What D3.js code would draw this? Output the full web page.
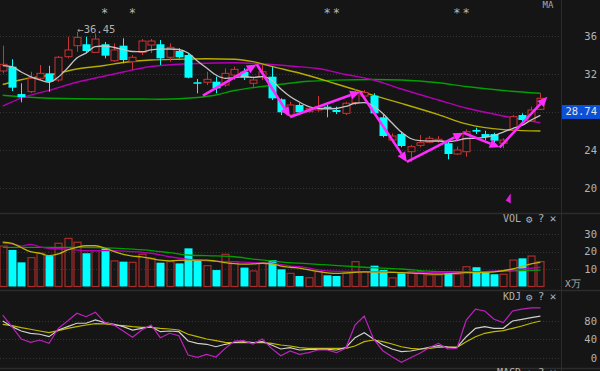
<!DOCTYPE html>
<html><head><meta charset="utf-8">
<script src="https://cdn.jsdelivr.net/npm/d3@7/dist/d3.min.js"></script>
<style>html,body{margin:0;padding:0;background:#151515;overflow:hidden}</style>
</head><body><svg id="c" width="600" height="371"></svg>
<script>
// ---------------- DATA ----------------
const opens  = [32.32,32.77,29.89,30.14,31.55,32.07,31.37,33.82,34.98,35.13,34.28,35.13,33.40,34.98,33.29,34.28,35.05,35.13,33.76,34.42,34.00,31.13,31.13,31.19,30.84,31.89,32.24,31.02,31.72,31.72,29.34,27.68,28.74,28.03,28.21,28.56,28.21,27.86,28.98,29.68,29.72,27.44,25.05,25.68,23.82,24.49,24.81,24.95,24.71,23.58,23.82,26.11,25.68,25.68,24.71,26.11,27.68,27.05,28.28];
const highs  = [34.98,33.55,31.02,32.24,32.95,32.87,33.89,35.93,36.45,35.93,36.28,35.37,35.23,35.76,34.00,35.68,35.68,35.58,35.23,34.71,34.18,31.47,32.24,31.72,32.60,32.77,32.60,31.72,32.95,32.77,29.44,29.08,28.92,28.56,29.68,28.74,28.56,29.08,30.39,30.32,29.97,27.68,25.76,25.93,24.53,25.58,25.47,25.47,24.87,24.35,26.18,26.35,26.03,25.82,25.23,27.68,27.86,28.56,29.97];
const lows   = [32.07,30.21,29.02,30.00,31.37,30.14,31.19,33.65,34.35,34.18,34.21,33.65,33.29,33.13,32.42,34.00,34.21,32.95,33.29,33.65,31.55,29.97,30.84,29.97,30.66,31.37,31.37,30.49,31.37,29.26,27.68,27.47,27.86,27.93,28.03,27.44,27.79,27.68,28.74,29.55,27.68,25.34,24.87,24.28,22.77,24.28,24.71,24.77,23.02,23.47,23.29,25.68,25.05,24.77,24.18,25.93,26.63,26.98,28.21];
const closes = [33.02,30.56,29.55,31.55,32.07,31.19,33.76,34.53,35.86,34.42,35.68,33.93,34.53,33.47,33.76,35.47,35.47,33.65,34.81,33.76,31.61,30.98,31.44,30.49,32.07,32.49,31.61,31.37,32.24,29.44,27.97,28.74,27.97,28.39,28.56,28.35,28.00,28.92,29.97,30.07,27.86,25.47,25.47,24.42,24.35,24.77,25.23,25.13,23.58,24.00,25.93,25.93,25.34,24.98,25.05,27.51,27.16,28.21,29.44];
const volumes = [23.1,20.9,13.8,16.5,19.0,17.4,24.7,27.5,25.3,19.0,20.5,21.8,14.6,14.2,13.8,18.4,16.1,13.6,14.2,13.2,21.8,15.1,11.9,9.4,18.4,14.2,10.8,8.9,13.2,15.1,9.8,7.5,6.0,5.0,8.5,6.4,6.0,7.5,14.2,8.3,11.9,9.4,4.9,7.5,8.5,8.5,6.6,6.6,7.5,7.1,11.3,11.0,8.1,7.0,7.0,15.1,16.1,17.4,14.2];

// moving averages on price panel
const ma5 = [32.89,32.77,32.21,31.72,31.37,31.13,31.68,32.63,33.68,34.21,34.89,34.95,34.79,34.58,34.37,34.35,34.53,34.61,34.63,34.58,34.21,33.37,32.63,31.89,31.55,31.61,31.72,31.65,31.72,31.37,30.42,29.63,29.05,28.58,28.37,28.32,28.37,28.58,28.92,28.98,28.63,27.84,26.84,25.89,25.21,24.98,24.95,24.95,24.89,25.00,25.21,25.23,25.32,25.53,25.89,26.26,26.58,27.16,27.65];
const maYellow  = [[0,30.89],[2,31.4],[5,31.87],[8,32.53],[11,32.89],[13,33.21],[16,33.47],[19,33.55],[22,33.6],[25,33.56],[27,33.3],[29,32.8],[32,32.1],[36,30.95],[40,29.75],[43,28.9],[47,27.72],[50,26.75],[54,26.15],[58,26.0]];
const maMagenta = [[0,28.63],[2,29.47],[5,30.28],[8,31.13],[11,31.79],[13,32.21],[16,32.79],[19,33.02],[22,33.13],[25,33.18],[28,33.05],[31,32.84],[34,32.58],[37,31.95],[40,31.37],[43,30.42],[47,29.26],[50,28.42],[54,27.58],[58,26.87]];
const maGreen   = [[0,29.76],[2,29.61],[5,29.45],[11,29.37],[15,29.37],[17,29.34],[21,29.53],[23,29.79],[25,30.26],[28,30.68],[30,30.92],[33,31.24],[36,31.35],[40,31.42],[43,31.37],[47,31.08],[50,30.68],[54,30.26],[58,29.97]];

// volume moving averages
const volYellow  = [[0,25.4],[1,24.6],[2,22.3],[3,19.9],[4,19.0],[5,17.7],[6,18.6],[7,20.9],[8,22.4],[9,23.3],[10,23.3],[11,22.0],[12,20.0],[13,18.3],[14,17.4],[15,16.9],[16,16.0],[17,15.1],[18,14.7],[20,15.1],[22,15.1],[23,14.5],[24,13.7],[25,13.1],[26,12.8],[27,12.9],[28,13.3],[29,13.0],[30,11.7],[31,11.0],[32,10.5],[34,8.6],[36,7.5],[39,8.4],[43,7.9],[47,7.1],[50,7.9],[53,8.4],[55,10.0],[57,12.9],[58,13.8]];
const volMagenta = [[0,24.7],[1,24.3],[2,23.1],[3,24.1],[4,22.7],[5,21.8],[7,21.4],[9,20.5],[12,20.5],[14,19.9],[16,19.0],[18,17.0],[20,15.5],[22,14.7],[25,14.2],[27,13.6],[29,13.3],[31,11.7],[32,11.3],[35,8.9],[39,8.5],[43,8.1],[47,7.9],[52,8.5],[55,9.4],[58,11.0]];
const volGreen   = [[0,22.4],[5,22.4],[8,22.4],[12,21.9],[14,21.3],[16,20.5],[18,19.3],[20,18.0],[22,17.6],[25,17.0],[27,15.7],[29,14.7],[31,13.6],[32,13.3],[35,12.3],[39,11.0],[43,10.0],[47,8.5],[52,8.5],[55,8.9],[58,9.4]];

// KDJ
const kLine = [79.4,67.2,57.9,53.0,50.9,45.7,60.0,67.2,74.5,74.5,81.5,75.8,72.3,67.2,60.0,63.7,67.2,56.4,57.9,56.4,36.5,31.5,29.4,24.2,29.4,33.7,35.0,32.8,35.0,27.9,19.3,22.1,17.2,18.7,18.7,18.7,17.2,22.1,43.6,54.3,40.8,27.9,19.3,13.6,15.0,18.7,23.0,26.5,23.6,23.0,45.7,63.7,67.2,63.7,63.7,79.4,83.0,86.5,90.0];
const dLine = [72.3,69.3,65.0,61.6,57.9,54.3,58.6,63.7,67.2,70.8,73.6,73.0,70.8,69.3,67.2,65.8,65.8,63.7,62.2,60.0,50.9,45.7,40.8,37.2,33.7,32.8,33.7,32.8,33.7,31.5,27.9,25.8,22.1,20.8,20.8,20.8,20.8,20.8,25.8,35.0,38.6,35.0,30.0,24.2,20.8,19.3,20.8,23.0,23.6,23.0,35.0,45.7,53.0,56.4,58.6,63.7,68.7,74.5,79.4];
const jLine = [92,67,40.8,33.6,38.6,31.5,63.7,79.4,95.9,88.6,98,76.6,70.8,57.9,44.4,60,70.8,43.6,53,47.9,6.4,1.4,7.9,2.1,20.7,36.5,37.2,30,40.8,20.7,5,15,7.9,11.4,17.2,17.2,11.4,20.8,70.8,90,40.8,15.7,2.8,-9.3,0.6,10,22.1,31.5,19.3,20.8,81.5,105,100.9,83,75.8,100.9,105,107.3,107.3];

// annotations
const zigzag = [[21.6,29.72],[27.4,33.02],[31.0,27.47],[38.55,30.14],[43.6,22.74],[49.7,25.82],[53.6,24.28],[58.75,29.61]];
const starIdx = [11,14,35,36,49,50];
const maxIdx = 8, maxLabel = "←36.45";
const lastPrice = 28.74;
const gridPrice = [36,32,28,24,20];
const priceTicks = [36,32,24,20];
const volTicks = [30,20,10];
const kdjTicks = [80,40,0];
const flagPoint = [54.8, 18.8];

// ---------------- DRAW ----------------
const W = 600, H = 371, plotR = 561;
const BG = "#151515";
const RED = "#cc3333", VRED = "#a82c2c", CYAN = "#00ffff";
const FONT = "'DejaVu Sans Mono', 'Liberation Mono', monospace";
const svg = d3.select("#c");
svg.append("rect").attr("width", W).attr("height", H).attr("fill", BG);

const x = d3.scaleLinear().domain([0, 58]).range([2.7, 540.4]);
const yP = d3.scaleLinear().domain([20, 36]).range([188, 36]);
const yV = d3.scaleLinear().domain([0, 30]).range([286.5, 234]);
const yK = d3.scaleLinear().domain([0, 80]).range([358, 320.7]);

const defs = svg.append("defs");
function clip(id, y0, y1) {
  defs.append("clipPath").attr("id", id).append("rect")
    .attr("x", 0).attr("y", y0).attr("width", plotR).attr("height", y1 - y0);
}
clip("cMain", 0, 212); clip("cVol", 214, 289); clip("cKdj", 291, 367);

// grids
function grid(vals, sc) {
  svg.append("g").selectAll("line").data(vals).join("line")
    .attr("x1", 0).attr("x2", plotR)
    .attr("y1", d => Math.round(sc(d)) + 0.5).attr("y2", d => Math.round(sc(d)) + 0.5)
    .attr("stroke", "#353535").attr("stroke-dasharray", "1,2");
}
grid(gridPrice, yP); grid(volTicks, yV); grid(kdjTicks, yK);

// separators
[213, 290, 368].forEach(yy => svg.append("line").attr("x1", 0).attr("x2", W)
  .attr("y1", yy + 0.5).attr("y2", yy + 0.5).attr("stroke", "#2c2c2c").attr("stroke-width", 1.5));
svg.append("line").attr("x1", plotR + 0.5).attr("x2", plotR + 0.5).attr("y1", 0).attr("y2", H)
  .attr("stroke", "#2c2c2c");

// ---- main panel
const gM = svg.append("g").attr("clip-path", "url(#cMain)");
const idx = d3.range(opens.length);
const lineP = d3.line().x(d => x(d[0])).y(d => yP(d[1])).curve(d3.curveMonotoneX);
[[maGreen, "#00a000"], [maMagenta, "#b400b4"], [maYellow, "#b4ac00"]].forEach(([data, col]) => {
  gM.append("path").datum(data).attr("d", lineP).attr("fill", "none").attr("stroke", col).attr("stroke-width", 1.4);
});

// candles
const cg = gM.append("g");
idx.forEach(i => {
  const up = closes[i] >= opens[i];
  const col = up ? RED : CYAN;
  const cx = Math.round(x(i)) + 0.5;
  cg.append("line").attr("x1", cx).attr("x2", cx)
    .attr("y1", yP(highs[i])).attr("y2", yP(lows[i])).attr("stroke", col);
  const top = yP(Math.max(opens[i], closes[i])), bot = yP(Math.min(opens[i], closes[i]));
  if (up) {
    cg.append("rect").attr("x", cx - 3.5).attr("y", top).attr("width", 7)
      .attr("height", Math.max(1, bot - top)).attr("fill", BG).attr("stroke", col);
  } else {
    cg.append("rect").attr("x", cx - 4).attr("y", top).attr("width", 8)
      .attr("height", Math.max(1.5, bot - top)).attr("fill", col);
  }
});

gM.append("path").datum(ma5.map((v, i) => [i, v])).attr("d", lineP)
  .attr("fill", "none").attr("stroke", "#c4c4c4").attr("stroke-width", 1.3);

// zigzag arrows
const ZC = "#ff2cff";
for (let k = 0; k < zigzag.length - 1; k++) {
  const x0 = x(zigzag[k][0]), y0 = yP(zigzag[k][1]);
  const x1 = x(zigzag[k + 1][0]), y1 = yP(zigzag[k + 1][1]);
  const a = Math.atan2(y1 - y0, x1 - x0), L = 10, hw = 4.5;
  const bx = x1 - L * Math.cos(a), by = y1 - L * Math.sin(a);
  gM.append("line").attr("x1", x0).attr("y1", y0).attr("x2", bx).attr("y2", by)
    .attr("stroke", ZC).attr("stroke-width", 2.6);
  const p = [[x1, y1], [bx + hw * Math.sin(a), by - hw * Math.cos(a)], [bx - hw * Math.sin(a), by + hw * Math.cos(a)]];
  gM.append("path").attr("d", "M" + p.map(q => q.join(",")).join("L") + "Z").attr("fill", ZC);
}
// small flag
{
  const fx = x(flagPoint[0]), fy = yP(flagPoint[1]);
  gM.append("path").attr("d", `M${fx},${fy - 6}L${fx},${fy + 4}L${fx - 5},${fy + 1}Z`).attr("fill", "#e020e0");
}

// max label and stars
svg.append("text").attr("x", x(maxIdx) + 0.5).attr("y", yP(highs[maxIdx]) + 1.5)
  .attr("font-family", FONT).attr("font-size", 10.5).attr("fill", "#b0b0b0").text(maxLabel);
svg.append("g").selectAll("text").data(starIdx).join("text")
  .attr("x", d => x(d)).attr("y", 17).attr("text-anchor", "middle")
  .attr("font-family", FONT).attr("font-size", 12).attr("fill", "#b8b8b8").text("*");
svg.append("text").attr("x", 548).attr("y", 8).attr("text-anchor", "middle")
  .attr("font-family", FONT).attr("font-size", 9).attr("fill", "#aaa").text("MA");

// ---- volume panel
const gV = svg.append("g").attr("clip-path", "url(#cVol)");
idx.forEach(i => {
  const up = closes[i] >= opens[i];
  const cx = Math.round(x(i)) + 0.5;
  if (up) {
    gV.append("rect").attr("x", cx - 3.5).attr("y", yV(volumes[i])).attr("width", 7)
      .attr("height", yV(0) - yV(volumes[i])).attr("fill", "none").attr("stroke", VRED).attr("stroke-width", 1.2);
  } else {
    gV.append("rect").attr("x", cx - 4).attr("y", yV(volumes[i])).attr("width", 8)
      .attr("height", yV(0) - yV(volumes[i])).attr("fill", CYAN);
  }
});
const lineV = d3.line().x(d => x(d[0])).y(d => yV(d[1])).curve(d3.curveMonotoneX);
[[volGreen, "#00a000"], [volMagenta, "#b400b4"], [volYellow, "#bcb400"]].forEach(([data, col]) => {
  gV.append("path").datum(data).attr("d", lineV).attr("fill", "none").attr("stroke", col).attr("stroke-width", 1.3);
});

// ---- KDJ panel
const gK = svg.append("g").attr("clip-path", "url(#cKdj)");
const lineK = d3.line().x((d, i) => x(i)).y(d => yK(d));
[[dLine, "#c0b800"], [kLine, "#cfcfcf"], [jLine, "#c020c0"]].forEach(([data, col]) => {
  gK.append("path").datum(data).attr("d", lineK).attr("fill", "none").attr("stroke", col).attr("stroke-width", 1.2);
});

// ---- axes (right side)
function rAxis(sc, vals) {
  const g = svg.append("g").attr("transform", "translate(597,0)")
    .call(d3.axisLeft(sc).tickValues(vals).tickSize(0).tickPadding(0).tickFormat(d3.format("d")));
  g.select(".domain").remove();
  g.selectAll("text").attr("font-family", FONT).attr("font-size", 10.5).attr("fill", "#b4b4b4");
}
rAxis(yP, priceTicks); rAxis(yV, volTicks); rAxis(yK, kdjTicks);

// last price box
svg.append("rect").attr("x", 562).attr("y", yP(lastPrice)).attr("width", 38).attr("height", 14).attr("fill", "#0b50d6");
svg.append("text").attr("x", 597).attr("y", yP(lastPrice) + 10.5).attr("text-anchor", "end")
  .attr("font-family", FONT).attr("font-size", 10.5).attr("fill", "#e6e6e6").text(lastPrice.toFixed(2));

// panel titles
function title(label, yy) {
  const g = svg.append("g").attr("font-family", FONT).attr("fill", "#b0b0b0");
  g.append("text").attr("x", 521).attr("y", yy).attr("text-anchor", "end").attr("font-size", 10).text(label);
  g.append("text").attr("x", 529).attr("y", yy + 0.5).attr("text-anchor", "middle").attr("font-size", 11).text("⚙");
  g.append("text").attr("x", 541).attr("y", yy).attr("text-anchor", "middle").attr("font-size", 11).text("?");
  g.append("text").attr("x", 553).attr("y", yy).attr("text-anchor", "middle").attr("font-size", 11).text("✕");
}
title("VOL", 222); title("KDJ", 300); title("MACD", 376);
svg.append("text").attr("x", 565).attr("y", 287).attr("font-family", FONT).attr("font-size", 9.5)
  .attr("fill", "#b0b0b0").text("X万");
</script></body></html>
